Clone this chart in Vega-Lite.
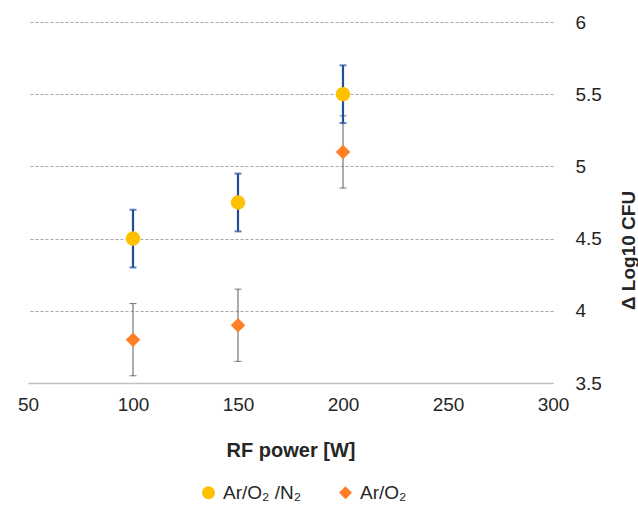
{
  "$schema": "https://vega.github.io/schema/vega-lite/v6.json",
  "width": 525,
  "height": 361,
  "autosize": {"type": "none"},
  "padding": {"left": 28, "top": 22, "right": 85, "bottom": 124},
  "background": "white",
  "config": {
    "font": "Liberation Sans",
    "view": {"stroke": null}
  },
  "data": {
    "values": [
      {"power": 100, "series": "Ar/O₂ /N₂", "value": 4.5, "lo": 4.3, "hi": 4.7},
      {"power": 150, "series": "Ar/O₂ /N₂", "value": 4.75, "lo": 4.55, "hi": 4.95},
      {"power": 200, "series": "Ar/O₂ /N₂", "value": 5.5, "lo": 5.3, "hi": 5.7},
      {"power": 100, "series": "Ar/O₂", "value": 3.8, "lo": 3.55, "hi": 4.05},
      {"power": 150, "series": "Ar/O₂", "value": 3.9, "lo": 3.65, "hi": 4.15},
      {"power": 200, "series": "Ar/O₂", "value": 5.1, "lo": 4.85, "hi": 5.35}
    ]
  },
  "layer": [
    {
      "transform": [{"filter": "datum.series === 'Ar/O₂'"}],
      "mark": {"type": "rule", "color": "#595959", "strokeWidth": 1},
      "encoding": {
        "x": {"field": "power", "type": "quantitative", "scale": {"domain": [50, 300], "nice": false}},
        "y": {"field": "lo", "type": "quantitative", "scale": {"domain": [3.5, 6], "nice": false, "zero": false}},
        "y2": {"field": "hi"}
      }
    },
    {
      "transform": [{"filter": "datum.series === 'Ar/O₂'"}, {"fold": ["lo", "hi"], "as": ["k", "v"]}],
      "mark": {"type": "tick", "color": "#404040", "orient": "horizontal", "size": 7, "thickness": 1},
      "encoding": {
        "x": {"field": "power", "type": "quantitative", "scale": {"domain": [50, 300], "nice": false}},
        "y": {"field": "v", "type": "quantitative", "scale": {"domain": [3.5, 6], "nice": false, "zero": false}}
      }
    },
    {
      "transform": [{"filter": "datum.series === 'Ar/O₂ /N₂'"}],
      "mark": {"type": "rule", "color": "#1F4E96", "strokeWidth": 2.2},
      "encoding": {
        "x": {"field": "power", "type": "quantitative", "scale": {"domain": [50, 300], "nice": false}},
        "y": {"field": "lo", "type": "quantitative", "scale": {"domain": [3.5, 6], "nice": false, "zero": false}},
        "y2": {"field": "hi"}
      }
    },
    {
      "transform": [{"filter": "datum.series === 'Ar/O₂ /N₂'"}, {"fold": ["lo", "hi"], "as": ["k", "v"]}],
      "mark": {"type": "tick", "color": "#1F4E96", "orient": "horizontal", "size": 7, "thickness": 2},
      "encoding": {
        "x": {"field": "power", "type": "quantitative", "scale": {"domain": [50, 300], "nice": false}},
        "y": {"field": "v", "type": "quantitative", "scale": {"domain": [3.5, 6], "nice": false, "zero": false}}
      }
    },
    {
      "mark": {"type": "point", "filled": true, "opacity": 1, "size": 210},
      "encoding": {
        "x": {
          "field": "power", "type": "quantitative",
          "scale": {"domain": [50, 300], "nice": false},
          "axis": {
            "title": "RF power [W]", "values": [50, 100, 150, 200, 250, 300], "labelFlush": false,
            "grid": false, "ticks": false, "domainColor": "#BFBFBF", "domainWidth": 1.5,
            "labelFontSize": 19, "labelColor": "#262626", "labelPadding": 12,
            "titleFontSize": 20, "titleFontWeight": "bold", "titleColor": "#262626", "titlePadding": 26
          }
        },
        "y": {
          "field": "value", "type": "quantitative",
          "scale": {"domain": [3.5, 6], "nice": false, "zero": false},
          "axis": {
            "orient": "right", "title": "Δ Log10 CFU", "values": [3.5, 4, 4.5, 5, 5.5, 6], "format": "~g",
            "labelFlush": false,
            "grid": true, "gridColor": "#A6A6A6", "gridDash": [3, 2], "gridWidth": 1,
            "ticks": false, "domain": false,
            "labelFontSize": 19, "labelColor": "#262626", "labelPadding": 22,
            "titleFontSize": 19, "titleFontWeight": "bold", "titleColor": "#262626", "titleAngle": -90,
            "titleX": 75, "titleY": 228, "titleAlign": "center", "titleBaseline": "middle"
          }
        },
        "color": {
          "field": "series", "type": "nominal",
          "scale": {"domain": ["Ar/O₂ /N₂", "Ar/O₂"], "range": ["#FFC000", "#FF7F27"]},
          "legend": {
            "title": null, "orient": "none", "direction": "horizontal", "legendX": 171, "legendY": 461,
            "labelFontSize": 19, "labelColor": "#262626", "symbolSize": 170, "symbolStrokeWidth": 0,
            "columnPadding": 34, "labelOffset": 5
          }
        },
        "shape": {
          "field": "series", "type": "nominal",
          "scale": {"domain": ["Ar/O₂ /N₂", "Ar/O₂"], "range": ["circle", "diamond"]}
        }
      }
    }
  ]
}
